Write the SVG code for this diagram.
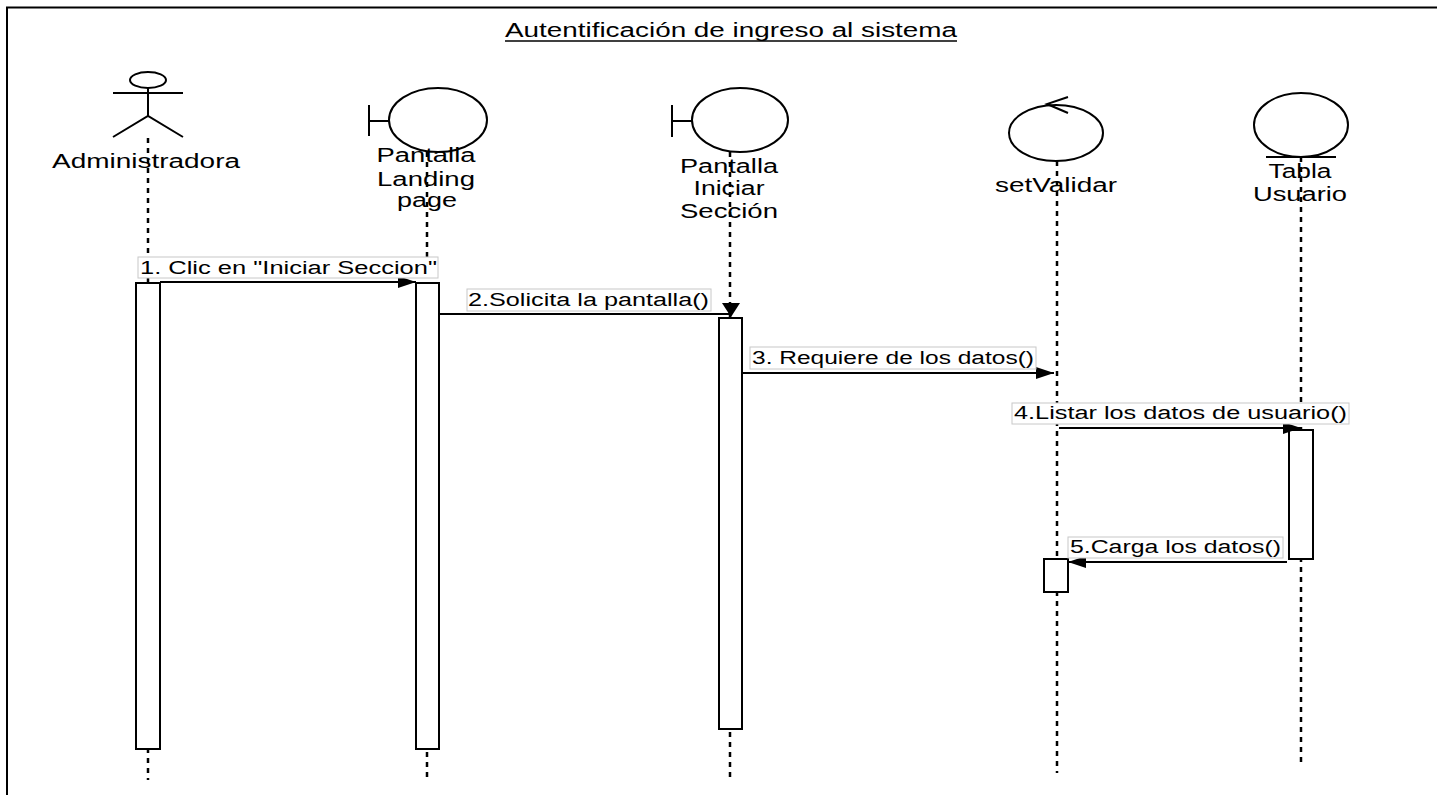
<svg xmlns="http://www.w3.org/2000/svg" width="1437" height="795" viewBox="0 0 1437 795">
<defs>
<marker id="arr" markerUnits="userSpaceOnUse" markerWidth="18" markerHeight="12" refX="18" refY="6" orient="auto">
<path d="M0,0 L18,6 L0,12 z" fill="#000"/>
</marker>
</defs>
<style>
text{font-family:"Liberation Sans",Arial,sans-serif;fill:#000}
.nm{font-size:20px;text-anchor:middle}
.ml{font-size:18px}
.sh{fill:#fff;stroke:#000;stroke-width:2}
.ln{stroke:#000;stroke-width:2;fill:none}
.life{stroke:#000;stroke-width:2.5;stroke-dasharray:5 5;fill:none}
.act{fill:#fff;stroke:#000;stroke-width:2}
.lb{fill:#fff;stroke:#c8c8c8;stroke-width:1}
.msg{stroke:#000;stroke-width:2;fill:none}
</style>
<rect width="1437" height="795" fill="#fff"/>
<g id="frame">
<path d="M7,795 L7,7.5 L1437,7.5" class="ln"/>
<text x="731" y="37" class="nm" textLength="452" lengthAdjust="spacingAndGlyphs">Autentificación de ingreso al sistema</text>
<line x1="505" y1="41" x2="957" y2="41" stroke="#000" stroke-width="1.5"/>
</g>
<g id="lifelines">
<line x1="148" y1="138" x2="148" y2="780" class="life"/>
<line x1="427" y1="152" x2="427" y2="778" class="life"/>
<line x1="730" y1="152" x2="730" y2="778" class="life"/>
<line x1="1057" y1="161" x2="1057" y2="773" class="life"/>
<line x1="1301" y1="157" x2="1301" y2="762" class="life"/>
</g>
<g id="administradora">
<ellipse cx="148" cy="80" rx="18" ry="8" class="sh"/>
<line x1="113" y1="93" x2="183" y2="93" class="ln"/>
<line x1="148" y1="88" x2="148" y2="116" class="ln"/>
<path d="M113,137 L148,116 L183,137" class="ln"/>
<text x="146" y="168" class="nm" textLength="188" lengthAdjust="spacingAndGlyphs">Administradora</text>
<rect x="136" y="283" width="24" height="466" class="act"/>
</g>
<g id="pantalla-landing">
<line x1="369" y1="105" x2="369" y2="136" class="ln"/>
<line x1="369" y1="121" x2="389" y2="121" class="ln"/>
<ellipse cx="438" cy="120" rx="49" ry="32" class="sh"/>
<text x="426" y="162" class="nm" textLength="99" lengthAdjust="spacingAndGlyphs">Pantalla</text>
<text x="426" y="186" class="nm" textLength="98" lengthAdjust="spacingAndGlyphs">Landing</text>
<text x="427" y="207" class="nm" textLength="60" lengthAdjust="spacingAndGlyphs">page</text>
<rect x="416" y="283" width="23" height="466" class="act"/>
</g>
<g id="pantalla-iniciar">
<line x1="672" y1="105" x2="672" y2="137" class="ln"/>
<line x1="672" y1="121" x2="692" y2="121" class="ln"/>
<ellipse cx="740" cy="120" rx="48" ry="32" class="sh"/>
<text x="729" y="173" class="nm" textLength="98" lengthAdjust="spacingAndGlyphs">Pantalla</text>
<text x="729" y="195" class="nm" textLength="71" lengthAdjust="spacingAndGlyphs">Iniciar</text>
<text x="729" y="218" class="nm" textLength="98" lengthAdjust="spacingAndGlyphs">Sección</text>
<rect x="719" y="318" width="23" height="411" class="act"/>
</g>
<g id="setvalidar">
<ellipse cx="1056" cy="133" rx="47" ry="28" class="sh"/>
<path d="M1068,97 L1047,104 L1068,113" class="ln"/>
<text x="1056" y="192" class="nm" textLength="122" lengthAdjust="spacingAndGlyphs">setValidar</text>
<rect x="1044" y="559" width="24" height="33" class="act"/>
</g>
<g id="tabla-usuario">
<ellipse cx="1301" cy="125" rx="47" ry="32" class="sh"/>
<line x1="1266" y1="157" x2="1336" y2="157" class="ln"/>
<text x="1300" y="178" class="nm" textLength="63" lengthAdjust="spacingAndGlyphs">Tabla</text>
<text x="1300" y="201" class="nm" textLength="94" lengthAdjust="spacingAndGlyphs">Usuario</text>
<rect x="1289" y="430" width="24" height="129" class="act"/>
</g>
<g id="connectors">
<line x1="160" y1="282" x2="416" y2="282" class="msg" marker-end="url(#arr)"/>
<rect x="138" y="257" width="300" height="21" class="lb"/>
<text x="140" y="274" class="ml" textLength="297" lengthAdjust="spacingAndGlyphs">1. Clic en "Iniciar Seccion"</text>
<line x1="439" y1="314" x2="729" y2="314" class="msg"/>
<polygon points="722,303 740,303 731,317" fill="#000"/>
<rect x="467" y="289" width="244" height="22" class="lb"/>
<text x="468" y="306" class="ml" textLength="241" lengthAdjust="spacingAndGlyphs">2.Solicita la pantalla()</text>
<line x1="742" y1="373" x2="1054" y2="373" class="msg" marker-end="url(#arr)"/>
<rect x="750" y="347" width="286" height="22" class="lb"/>
<text x="752" y="364" class="ml" textLength="282" lengthAdjust="spacingAndGlyphs">3. Requiere de los datos()</text>
<line x1="1059" y1="428" x2="1301" y2="428" class="msg" marker-end="url(#arr)"/>
<rect x="1012" y="403" width="337" height="21" class="lb"/>
<text x="1014" y="419" class="ml" textLength="333" lengthAdjust="spacingAndGlyphs">4.Listar los datos de usuario()</text>
<line x1="1287" y1="562" x2="1068" y2="562" class="msg" marker-end="url(#arr)"/>
<rect x="1068" y="537" width="215" height="21" class="lb"/>
<text x="1070" y="553" class="ml" textLength="211" lengthAdjust="spacingAndGlyphs">5.Carga los datos()</text>
</g>
</svg>
